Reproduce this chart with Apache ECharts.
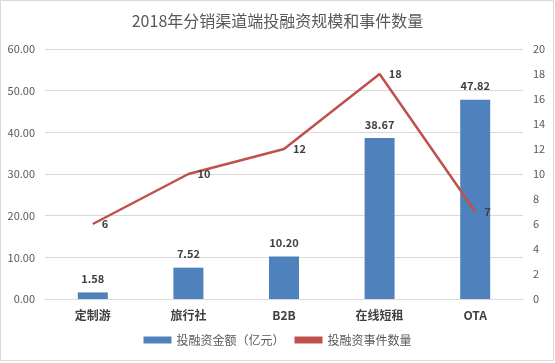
<!DOCTYPE html>
<html><head><meta charset="utf-8">
<script src="https://cdn.jsdelivr.net/npm/echarts@6/dist/echarts.min.js"></script>
<style>html,body{margin:0;padding:0;background:#fff}#c{width:555px;height:363px}</style>
</head><body><div id="c"></div>
<script>
const categories = ['定制游', '旅行社', 'B2B', '在线短租', 'OTA'];
const amounts = [1.58, 7.52, 10.20, 38.67, 47.82];
const events = [6, 10, 12, 18, 7];
const title = '2018年分销渠道端投融资规模和事件数量';
const seriesNames = ['投融资金额（亿元）', '投融资事件数量'];

const chart = echarts.init(document.getElementById('c'));
const font = '"Microsoft YaHei","Noto Sans CJK SC",sans-serif';
chart.setOption({
  backgroundColor: '#fff',
  animation: false,
  textStyle: {fontFamily: font},
  title: {text: title, left: 'center', top: 8, textStyle: {fontSize: 16, fontWeight: 'normal', color: '#595959', fontFamily: font}},
  graphic: [{type: 'rect', shape: {x: 0.5, y: 0.5, width: 553, height: 360}, style: {fill: 'none', stroke: '#d9d9d9', lineWidth: 1}, silent: true}],
  grid: {left: 45, right: 32, top: 49, bottom: 64},
  legend: {bottom: 12, itemGap: 10, itemWidth: 28, itemHeight: 7,
    textStyle: {fontSize: 12, color: '#595959'},
    data: [{name: seriesNames[0], icon: 'rect'}, {name: seriesNames[1], icon: 'rect'}]},
  xAxis: {type: 'category', data: categories,
    axisLine: {lineStyle: {color: '#d9d9d9'}}, axisTick: {show: false},
    axisLabel: {fontSize: 12, fontWeight: 'bold', color: '#404040', margin: 10}},
  yAxis: [
    {type: 'value', min: 0, max: 60, interval: 10,
      axisLabel: {formatter: v => v.toFixed(2), fontSize: 11, color: '#595959', margin: 10},
      splitLine: {lineStyle: {color: '#d9d9d9'}}, axisLine: {show: false}, axisTick: {show: false}},
    {type: 'value', min: 0, max: 20, interval: 2,
      axisLabel: {fontSize: 11, color: '#595959', margin: 10},
      splitLine: {show: false}, axisLine: {show: false}, axisTick: {show: false}}
  ],
  series: [
    {name: seriesNames[0], type: 'bar', data: amounts, barWidth: 30, itemStyle: {color: '#4F81BD'},
      label: {show: true, position: 'top', distance: 8, formatter: p => p.value.toFixed(2), fontSize: 11, fontWeight: 'bold', color: '#404040'}},
    {name: seriesNames[1], type: 'line', yAxisIndex: 1, data: events, symbol: 'circle', symbolSize: 0.1, showSymbol: true,
      lineStyle: {color: '#C0504D', width: 2.5}, itemStyle: {color: '#C0504D'},
      label: {show: true, position: 'right', distance: 9, fontSize: 11, fontWeight: 'bold', color: '#404040'}}
  ]
});
</script></body></html>
